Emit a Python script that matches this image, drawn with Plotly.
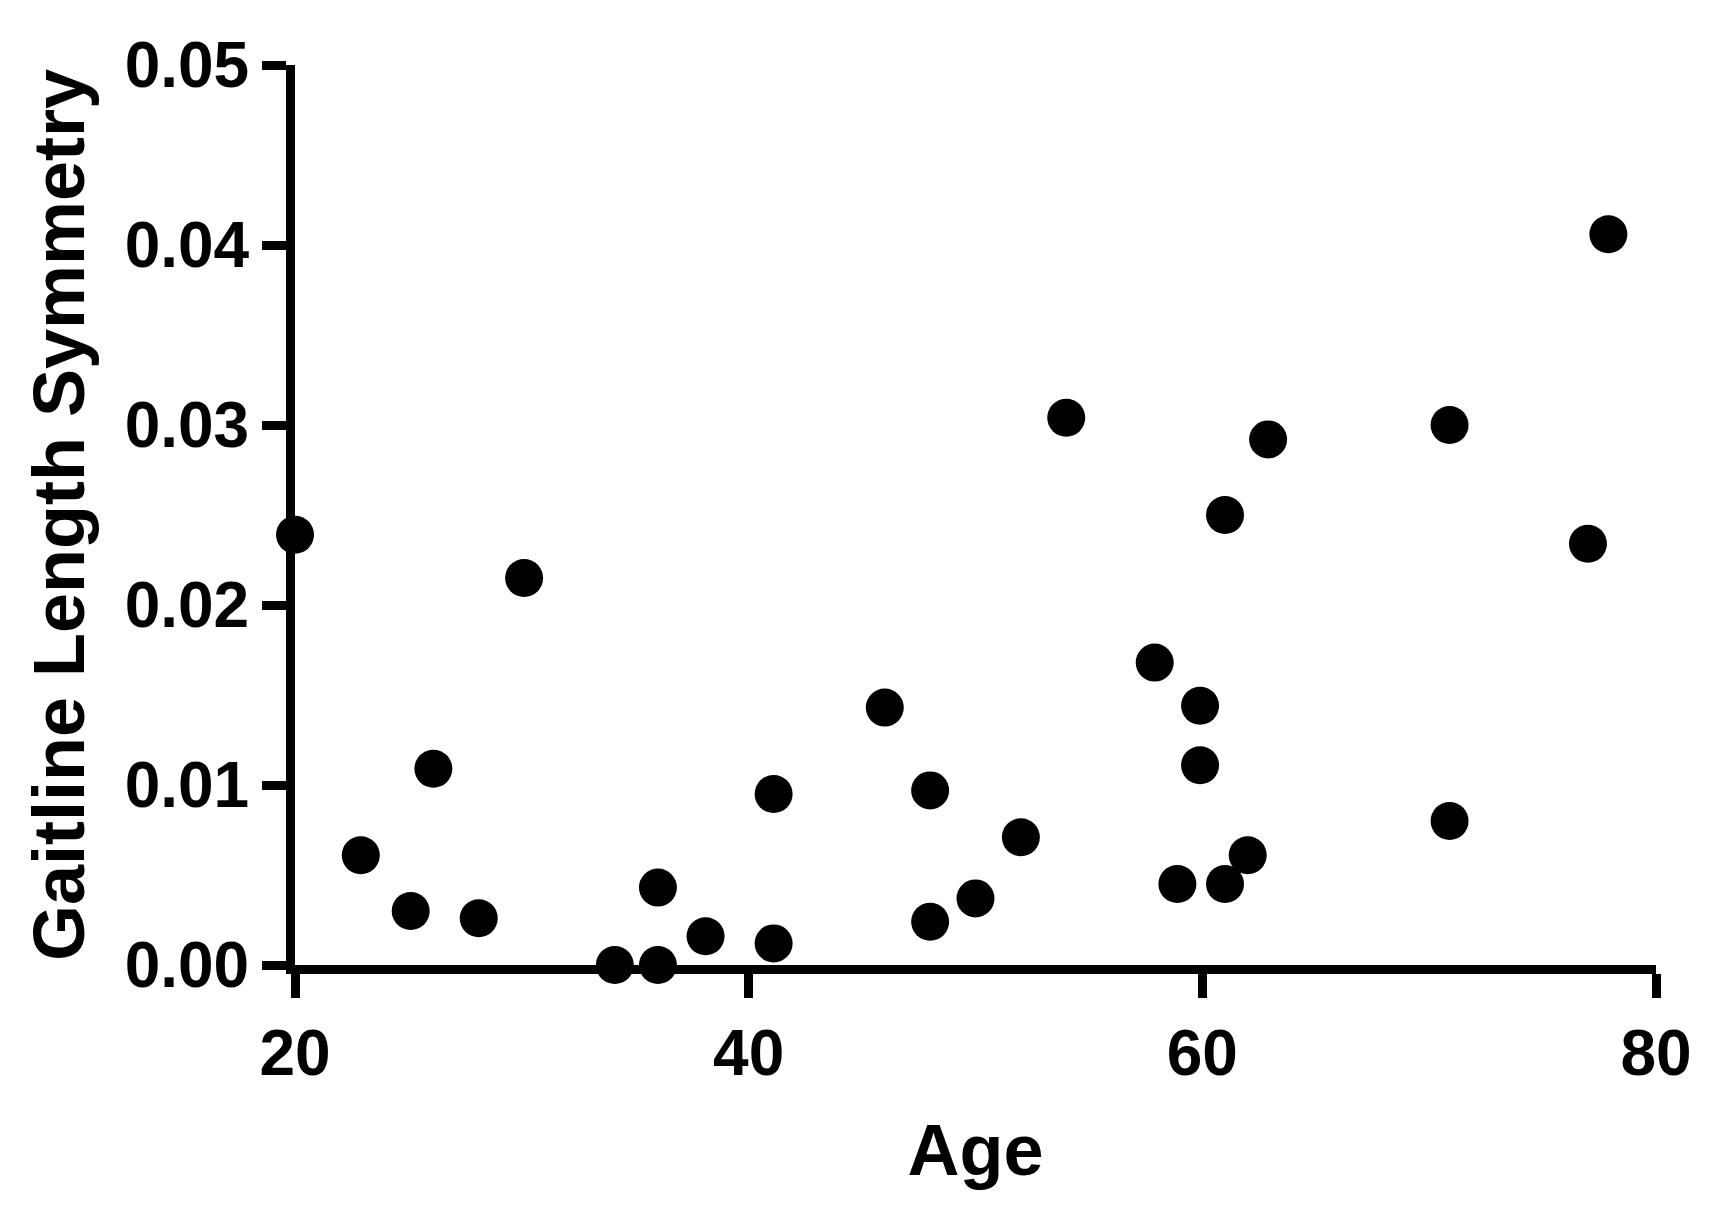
import plotly.graph_objects as go

age = [20, 22.9, 25.1, 26.1, 28.1, 30.1, 34.1, 36.0, 36.0, 38.1, 41.1, 41.1, 46.0, 48.0, 48.0,
       50.0, 52.0, 54.0, 57.9, 58.9, 59.9, 59.9, 61.0, 61.0, 62.0, 62.9, 70.9, 70.9, 77.0, 77.9]
symmetry = [0.0239, 0.0061, 0.0030, 0.0109, 0.0026, 0.0215, 0.0, 0.0, 0.0043, 0.0016, 0.0012, 0.0095,
            0.0143, 0.0097, 0.0024, 0.0037, 0.0071, 0.0304, 0.0168, 0.0045, 0.0144, 0.0111, 0.0250,
            0.0045, 0.0061, 0.0292, 0.0300, 0.0080, 0.0234, 0.0406]

fig = go.Figure(go.Scatter(
    x=age, y=symmetry, mode='markers', cliponaxis=False,
    marker=dict(color='black', size=38),
    showlegend=False,
))

font = dict(family="Liberation Sans, Arial, sans-serif", size=64, color='black')
axis_style = dict(showgrid=False, zeroline=False, showline=True, linecolor='black', linewidth=9,
                  ticks='outside', ticklen=24, tickwidth=9, tickcolor='black',
                  tickfont=dict(font, weight='bold'))

fig.update_layout(
    width=1710, height=1223,
    plot_bgcolor='white', paper_bgcolor='white',
    margin=dict(l=287, r=62, t=57, b=266),
    xaxis=dict(axis_style, range=[20, 80], tickvals=[20, 40, 60, 80],
               title=dict(text='<b>Age</b>', font=dict(font, size=72), standoff=40)),
    yaxis=dict(axis_style, range=[0, 0.05], tickvals=[0, 0.01, 0.02, 0.03, 0.04, 0.05],
               tickformat='.2f',
               title=dict(text='<b>Gaitline Length Symmetry</b>', font=dict(font, size=72), standoff=20)),
)

fig.write_html("out.html")
